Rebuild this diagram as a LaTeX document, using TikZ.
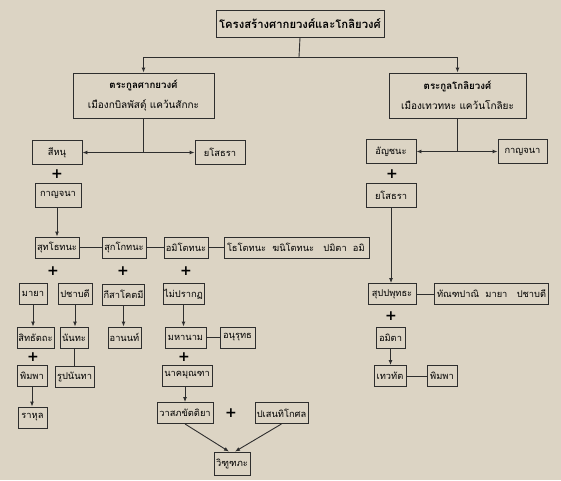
\documentclass[tikz,border=0pt]{standalone}
\usepackage{fontspec}
\newfontfamily\thaifont[Script=Thai]{Loma}
\newfontfamily\plusfont{DejaVu Sans}
\usetikzlibrary{arrows.meta,positioning}
\definecolor{GenBack}{HTML}{DCD4C4}
\definecolor{GenDark}{HTML}{2E2E2E}
\newcommand{\GenTitle}{\thaifont\fontsize{11.3}{13}\selectfont\bfseries}
\newcommand{\GenHead}{\thaifont\fontsize{9.7}{11}\selectfont\bfseries}
\newcommand{\GenSub}{\thaifont\fontsize{10}{11}\selectfont}
\newcommand{\GenText}{\thaifont\fontsize{9.3}{10.5}\selectfont}
\newcommand{\GenPlus}{\plusfont\fontsize{14}{14}\selectfont\bfseries}
\tikzset{
  genbase/.style={
    draw=GenDark,
    fill=GenBack,
    line width=0.9pt,
    align=center,
    inner sep=1pt,
    text=black,
    font=\GenText
  },
  personbox/.style={genbase, rectangle, minimum height=21pt},
  topbox/.style={personbox, minimum height=24pt},
  groupbox/.style={personbox, align=left, inner sep=3pt},
  clanbox/.style={genbase, rectangle, minimum height=45pt},
  titlebox/.style={genbase, rectangle, minimum height=27pt, font=\GenTitle},
  plusmark/.style={inner sep=0pt, text=black, font=\GenPlus},
  mainarrow/.style={
    -{Latex[length=5pt,width=4pt]},
    draw=GenDark,
    line width=0.9pt
  },
  plainline/.style={
    draw=GenDark,
    line width=0.9pt
  }
}

\begin{document}
\begin{tikzpicture}[x=1pt,y=-1pt]
\fill[GenBack] (0,0) rectangle (561,480);
\path[use as bounding box] (0,0) rectangle (561,480);

\node[titlebox, minimum width=168pt] (title) at (300,23.5) {โครงสร้างศากยวงศ์และโกลิยวงศ์};
\node[clanbox, minimum width=141pt] (sakya) at (143.5,95.5)
  {{\GenHead ตระกูลศากยวงศ์}\\[8pt]
  {\GenSub เมืองกบิลพัสดุ์ แคว้นสักกะ}};
\node[clanbox, minimum width=137pt] (koliya) at (457.5,95.5)
  {{\GenHead ตระกูลโกลิยวงศ์}\\[8pt]
  {\GenSub เมืองเทวทหะ แคว้นโกลิยะ}};

% sakya side
\node[topbox, minimum width=50pt] (sihanu) at (57,152.5) {สีหนุ};
\node[topbox, minimum width=50pt] (yasoA) at (220,152.5) {ยโสธรา};
\node[plusmark] (plusA) at (57,174) {+};
\node[topbox, minimum width=46pt] (kanjanaA) at (58,195) {กาญจนา};

\node[personbox, minimum width=44pt] (suddhodana) at (57,247.5) {สุทโธทนะ};
\node[personbox, minimum width=44pt] (sukkodana) at (124,247.5) {สุกโกทนะ};
\node[personbox, minimum width=44pt] (amitodana) at (186,247.5) {อมิโตทนะ};
\node[groupbox, minimum width=145pt, text width=139pt] (brothers) at (296.5,247.5)
  {โธโตทนะ~~ฆนิโตทนะ~~~ปมิตา~~อมิ};
\node[plusmark] (plusB) at (53,271) {+};
\node[plusmark] (plusC) at (123,271) {+};
\node[plusmark] (plusD) at (186,271) {+};

\node[personbox, minimum width=28pt] (mayaA) at (33,294) {มายา};
\node[personbox, minimum width=34pt] (pajapatiA) at (75,294) {ปชาบดี};
\node[personbox, minimum width=40pt] (kisagotami) at (123.5,294.5) {กีสาโคตมี};
\node[personbox, minimum width=41pt] (unknown) at (183.5,294) {ไม่ปรากฏ};

\node[personbox, minimum width=37pt] (siddhattha) at (35.5,337.5) {สิทธัตถะ};
\node[personbox, minimum width=28pt] (nanda) at (74,337.5) {นันทะ};
\node[personbox, minimum width=33pt] (ananda) at (124.5,337.5) {อานนท์};
\node[personbox, minimum width=41pt] (mahanama) at (185.5,337.5) {มหานาม};
\node[personbox, minimum width=35pt] (anuruddha) at (237.5,337.5) {อนุรุทธ};
\node[plusmark] (plusE) at (33,357) {+};
\node[plusmark] (plusF) at (184,357) {+};

\node[personbox, minimum width=30pt] (bimbaA) at (32,376) {พิมพา};
\node[personbox, minimum width=39pt] (rupananda) at (74.5,376.5) {รูปนันทา};
\node[personbox, minimum width=50pt] (nagamunda) at (187,375.5) {นาคมุณฑา};
\node[personbox, minimum width=29pt] (rahula) at (32.5,417.5) {ราหุล};
\node[personbox, minimum width=56pt] (vasabha) at (185,413) {วาสภขัตติยา};
\node[plusmark] (plusG) at (231,413) {+};
\node[personbox, minimum width=53pt] (pasenadi) at (281.5,413) {ปเสนทิโกศล};
\node[personbox, minimum width=36pt, minimum height=23pt] (vidudabha) at (232,463.5) {วิฑูฑภะ};

% koliya side
\node[topbox, minimum width=50pt] (anjana) at (391,151.5) {อัญชนะ};
\node[topbox, minimum width=49pt] (kanjanaB) at (522.5,151.5) {กาญจนา};
\node[plusmark] (plusH) at (392,174) {+};
\node[topbox, minimum width=50pt] (yasoB) at (391,195) {ยโสธรา};
\node[personbox, minimum width=48pt] (suppabuddha) at (392,294) {สุปปพุทธะ};
\node[groupbox, minimum width=114pt, text width=108pt] (sisters) at (491,294)
  {ทัณฑปาณิ~~มายา~~~ปชาบดี};
\node[plusmark] (plusI) at (391,316) {+};
\node[personbox, minimum width=29pt] (amita) at (390.5,337.5) {อมิตา};
\node[personbox, minimum width=32pt] (devadatta) at (390,376) {เทวทัต};
\node[personbox, minimum width=30pt] (bimbaB) at (442,376) {พิมพา};

\coordinate (topjoin) at (299,57);
\coordinate (sakyajoin) at (sakya.south |- sihanu.east);
\coordinate (koliyajoin) at (koliya.south |- anjana.east);

\draw[plainline] (title.south) -- (topjoin);
\draw[mainarrow] (topjoin) -| (sakya.north);
\draw[mainarrow] (topjoin) -| (koliya.north);
\draw[plainline] (sakya.south) -- (sakyajoin);
\draw[mainarrow] (sakyajoin) -- (sihanu.east);
\draw[mainarrow] (sakyajoin) -- (yasoA.west);
\draw[plainline] (koliya.south) -- (koliyajoin);
\draw[mainarrow] (koliyajoin) -- (anjana.east);
\draw[mainarrow] (koliyajoin) -- (kanjanaB.west);

\draw[mainarrow] (kanjanaA.south -| suddhodana.north) -- (suddhodana.north);
\draw[plainline] (suddhodana.east) -- (sukkodana.west);
\draw[plainline] (sukkodana.east) -- (amitodana.west);
\draw[plainline] (amitodana.east) -- (brothers.west);

\draw[mainarrow] (mayaA.south) -- (mayaA.south |- siddhattha.north);
\draw[mainarrow] (pajapatiA.south) -- (pajapatiA.south |- nanda.north);
\draw[mainarrow] (kisagotami.south) -- (kisagotami.south |- ananda.north);
\draw[mainarrow] (unknown.south) -- (unknown.south |- mahanama.north);
\draw[plainline] (mahanama.east) -- (anuruddha.west);
\draw[plainline] (nanda.south) -- (nanda.south |- rupananda.north);
\draw[mainarrow] (bimbaA.south) -- (bimbaA.south |- rahula.north);
\draw[mainarrow] (nagamunda.south -| vasabha.north) -- (vasabha.north);
\draw[mainarrow] (vasabha.south) -- ([xshift=-3pt]vidudabha.north);
\draw[mainarrow] (pasenadi.south) -- ([xshift=3pt]vidudabha.north);

\draw[mainarrow] (yasoB.south) -- (yasoB.south |- suppabuddha.north);
\draw[plainline] (suppabuddha.east) -- (sisters.west);
\draw[mainarrow] (amita.south) -- (amita.south |- devadatta.north);
\draw[plainline] (devadatta.east) -- (bimbaB.west);

\end{tikzpicture}
\end{document}
